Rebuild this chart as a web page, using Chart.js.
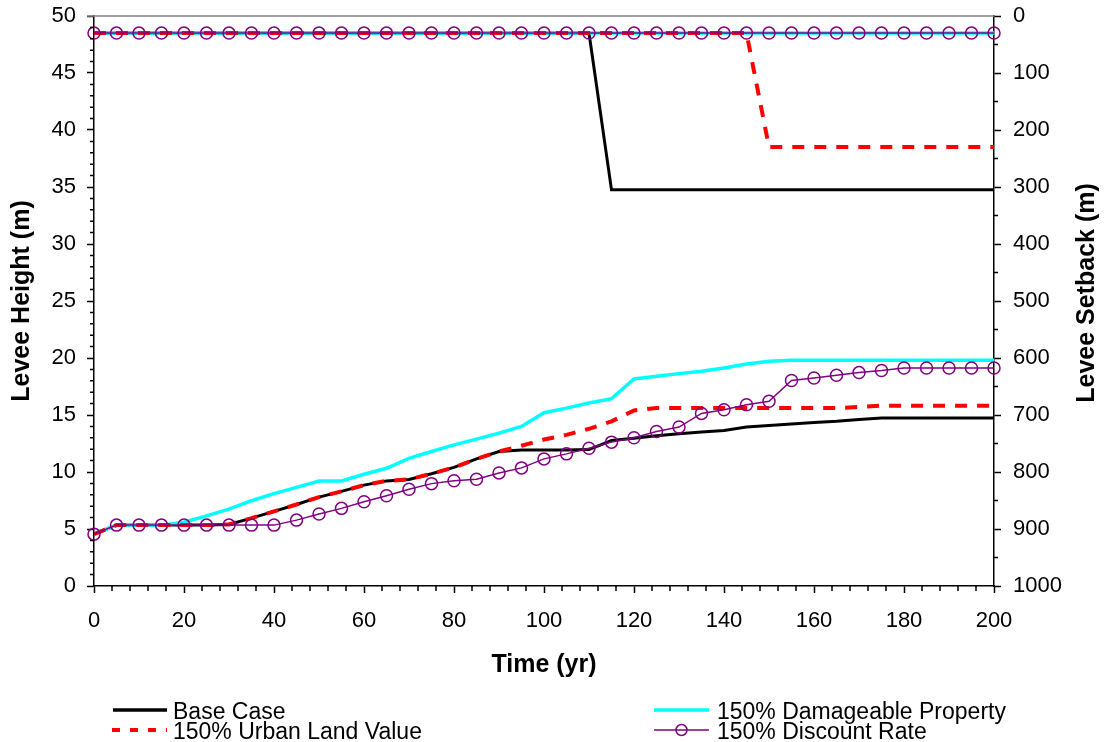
<!DOCTYPE html>
<html>
<head>
<meta charset="utf-8">
<script src="https://cdn.jsdelivr.net/npm/chart.js@4.4.1/dist/chart.umd.min.js"></script>
<style>
  body { margin: 0; background: #fff; }
  #wrap { position: relative; width: 1106px; height: 742px; }
  #legend { position: absolute; left: 0; top: 0; pointer-events: none; }
  #legend text { font-family: "Liberation Sans", Arial, sans-serif; font-size: 23px; fill: #000; }
</style>
</head>
<body>
<div id="wrap">
  <canvas id="leveeChart" width="1106" height="742"></canvas>
  <svg id="legend" width="1106" height="742">
    <line x1="113" y1="710" x2="167" y2="710" stroke="#000" stroke-width="3.5"/>
    <text x="173" y="719">Base Case</text>
    <line x1="112" y1="730" x2="167" y2="730" stroke="#ff0000" stroke-width="4" stroke-dasharray="8 10"/>
    <text x="173" y="739">150% Urban Land Value</text>
    <line x1="654" y1="710" x2="709" y2="710" stroke="#00ffff" stroke-width="3.5"/>
    <text x="717" y="719">150% Damageable Property</text>
    <line x1="654" y1="730" x2="709" y2="730" stroke="#800080" stroke-width="1.5"/>
    <circle cx="681.5" cy="730" r="5.5" fill="none" stroke="#800080" stroke-width="1.5"/>
    <text x="717" y="739">150% Discount Rate</text>
  </svg>
</div>
<script>
const years = [0, 5, 10, 15, 20, 25, 30, 35, 40, 45, 50, 55, 60, 65, 70, 75, 80, 85, 90, 95, 100,
  105, 110, 115, 120, 125, 130, 135, 140, 145, 150, 155, 160, 165, 170, 175, 180, 185, 190, 195, 200];

// levee height (m), left axis
const baseHeight = [4.55, 5.34, 5.34, 5.34, 5.34, 5.34, 5.4, 5.95, 6.55, 7.15, 7.8, 8.3, 8.85, 9.22, 9.35, 9.85, 10.4, 11.15, 11.8, 11.92, 11.94,
  11.94, 11.97, 12.76, 12.97, 13.17, 13.35, 13.5, 13.64, 13.94, 14.08, 14.2, 14.35, 14.45, 14.6, 14.73, 14.73, 14.73, 14.73, 14.73, 14.73];
const damageHeight = [4.55, 5.34, 5.34, 5.34, 5.6, 6.15, 6.75, 7.48, 8.1, 8.65, 9.21, 9.21, 9.8, 10.33, 11.2, 11.8, 12.38, 12.88, 13.41, 14.0, 15.2,
  15.6, 16.05, 16.43, 18.16, 18.4, 18.63, 18.84, 19.13, 19.48, 19.72, 19.8, 19.8, 19.8, 19.8, 19.8, 19.8, 19.8, 19.8, 19.8, 19.8];
const urbanHeight = [4.55, 5.34, 5.34, 5.34, 5.34, 5.34, 5.4, 5.95, 6.55, 7.15, 7.8, 8.3, 8.85, 9.22, 9.35, 9.85, 10.4, 11.15, 11.8, 12.3, 12.85,
  13.26, 13.79, 14.44, 15.4, 15.61, 15.61, 15.61, 15.61, 15.61, 15.61, 15.61, 15.61, 15.61, 15.7, 15.82, 15.82, 15.82, 15.82, 15.82, 15.82];
const discountHeight = [4.55, 5.34, 5.34, 5.34, 5.34, 5.34, 5.34, 5.34, 5.34, 5.78, 6.31, 6.81, 7.39, 7.92, 8.48, 8.98, 9.24, 9.36, 9.92, 10.36, 11.15,
  11.59, 12.09, 12.62, 13.0, 13.56, 13.94, 15.14, 15.46, 15.9, 16.2, 18.02, 18.25, 18.49, 18.72, 18.9, 19.13, 19.13, 19.13, 19.13, 19.13];

// levee setback (m), right axis (reversed)
const baseSetback = [30, 30, 30, 30, 30, 30, 30, 30, 30, 30, 30, 30, 30, 30, 30, 30, 30, 30, 30, 30, 30,
  30, 30, 305, 305, 305, 305, 305, 305, 305, 305, 305, 305, 305, 305, 305, 305, 305, 305, 305, 305];
const damageSetback = [30, 30, 30, 30, 30, 30, 30, 30, 30, 30, 30, 30, 30, 30, 30, 30, 30, 30, 30, 30, 30,
  30, 30, 30, 30, 30, 30, 30, 30, 30, 30, 30, 30, 30, 30, 30, 30, 30, 30, 30, 30];
const urbanSetback = [30, 30, 30, 30, 30, 30, 30, 30, 30, 30, 30, 30, 30, 30, 30, 30, 30, 30, 30, 30, 30,
  30, 30, 30, 30, 30, 30, 30, 30, 30, 230, 230, 230, 230, 230, 230, 230, 230, 230, 230, 230];
const discountSetback = [30, 30, 30, 30, 30, 30, 30, 30, 30, 30, 30, 30, 30, 30, 30, 30, 30, 30, 30, 30, 30,
  30, 30, 30, 30, 30, 30, 30, 30, 30, 30, 30, 30, 30, 30, 30, 30, 30, 30, 30, 30];

const FONT = '"Liberation Sans", Arial, sans-serif';

function toPoints(values) {
  return years.map((x, i) => ({ x: x, y: values[i] }));
}

const baseStyle = { borderColor: "#000000", borderWidth: 3, pointRadius: 0, order: 3 };
const damageStyle = { borderColor: "#00ffff", borderWidth: 3.5, pointRadius: 0, order: 2 };
const urbanStyle = { borderColor: "#ff0000", borderWidth: 4, borderDash: [12, 10], pointRadius: 0, order: 1 };
const discountStyle = {
  borderColor: "#800080", borderWidth: 1.5, pointRadius: 6, pointHoverRadius: 6,
  pointBorderColor: "#800080", pointBackgroundColor: "rgba(0,0,0,0)", pointBorderWidth: 1.5, order: 0, clip: false
};

const datasets = [
  { label: "Base Case", data: toPoints(baseHeight), yAxisID: "y", ...baseStyle },
  { label: "150% Damageable Property", data: toPoints(damageHeight), yAxisID: "y", ...damageStyle },
  { label: "150% Urban Land Value", data: toPoints(urbanHeight), yAxisID: "y", ...urbanStyle },
  { label: "150% Discount Rate", data: toPoints(discountHeight), yAxisID: "y", ...discountStyle },
  { label: "Base Case setback", data: toPoints(baseSetback), yAxisID: "y2", ...baseStyle },
  { label: "150% Damageable Property setback", data: toPoints(damageSetback), yAxisID: "y2", ...damageStyle },
  { label: "150% Urban Land Value setback", data: toPoints(urbanSetback), yAxisID: "y2", ...urbanStyle },
  { label: "150% Discount Rate setback", data: toPoints(discountSetback), yAxisID: "y2", ...discountStyle },
];

const tickFont = { family: FONT, size: 22 };
const titleFont = { family: FONT, size: 25, weight: "bold" };
const axisGrid = { drawOnChartArea: false, tickLength: 7, tickColor: "#000", tickWidth: 1.5 };
const axisBorder = { color: "#000", width: 1.5 };
const plainNumber = (value) => String(value);

// fixed axis box, so the plot area lands where the original has it
function fixWidth(width) {
  return (scale) => {
    scale.width = width;
    scale.paddingTop = 0;
    scale.paddingBottom = 0;
  };
}

// minor ticks, grey top frame and right-hand title
const axisDecor = {
  id: "axisDecor",
  afterDraw(chart) {
    const { ctx, chartArea, scales } = chart;
    ctx.save();
    ctx.lineWidth = 1.5;
    ctx.strokeStyle = "#808080";
    ctx.beginPath();
    ctx.moveTo(chartArea.left - 7, chartArea.top);
    ctx.lineTo(chartArea.right, chartArea.top);
    ctx.stroke();

    ctx.strokeStyle = "#000";
    ctx.beginPath();
    for (let v = 0; v <= 200; v += 4) {
      if (v % 20 === 0) continue;
      const px = scales.x.getPixelForValue(v);
      ctx.moveTo(px, chartArea.bottom);
      ctx.lineTo(px, chartArea.bottom + 5);
    }
    for (let v = 0; v <= 50; v += 1) {
      if (v % 5 === 0) continue;
      const py = scales.y.getPixelForValue(v);
      ctx.moveTo(chartArea.left, py);
      ctx.lineTo(chartArea.left - 4, py);
    }
    for (let v = 50; v < 1000; v += 100) {
      const py = scales.y2.getPixelForValue(v);
      ctx.moveTo(chartArea.right, py);
      ctx.lineTo(chartArea.right + 4, py);
    }
    ctx.stroke();

    ctx.translate(1087, 293);
    ctx.rotate(-Math.PI / 2);
    ctx.fillStyle = "#000";
    ctx.font = "bold 25px " + FONT;
    ctx.textAlign = "center";
    ctx.textBaseline = "middle";
    ctx.fillText("Levee Setback (m)", 0, 0);
    ctx.restore();
  }
};

const config = {
  type: "line",
  data: { datasets: datasets },
  plugins: [axisDecor],
  options: {
    responsive: false,
    animation: false,
    layout: { padding: { top: 16, left: 0, right: 0, bottom: 50 } },
    plugins: {
      legend: { display: false },
      tooltip: { enabled: false },
    },
    scales: {
      x: {
        type: "linear",
        min: 0,
        max: 200,
        ticks: { stepSize: 20, font: tickFont, color: "#000", padding: 15, maxRotation: 0, callback: plainNumber },
        grid: axisGrid,
        border: axisBorder,
        title: { display: true, text: "Time (yr)", font: titleFont, color: "#000", padding: { top: 0, bottom: 12 } },
        afterFit: (scale) => { scale.height = 106; },
      },
      y: {
        position: "left",
        min: 0,
        max: 50,
        ticks: { stepSize: 5, font: tickFont, color: "#000", padding: 11, callback: plainNumber },
        grid: axisGrid,
        border: axisBorder,
        title: { display: true, text: "Levee Height (m)", font: titleFont, color: "#000", padding: { top: 7, bottom: 0 } },
        afterFit: fixWidth(94),
      },
      y2: {
        position: "right",
        reverse: true,
        min: 0,
        max: 1000,
        ticks: { stepSize: 100, font: tickFont, color: "#000", padding: 12, callback: plainNumber },
        grid: axisGrid,
        border: axisBorder,
        afterFit: fixWidth(112),
      },
    },
  },
};

const leveeChart = new Chart(document.getElementById("leveeChart"), config);
</script>
</body>
</html>
